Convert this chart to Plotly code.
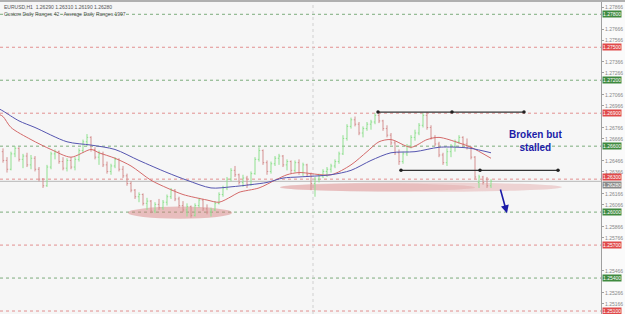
import plotly.graph_objects as go

# ---------------- data ----------------
bar_index = list(range(123))
opens = [1.2655,1.2647,1.2639,1.2653,1.2658,1.2648,1.2651,1.2643,1.2649,1.2639,
         1.2630,1.2624,1.2641,1.2653,1.2655,1.2646,1.2640,1.2647,1.2641,1.2648,
         1.2656,1.2664,1.2668,1.2657,1.2650,1.2653,1.2643,1.2637,1.2642,1.2648,
         1.2639,1.2633,1.2626,1.2620,1.2614,1.2616,1.2608,1.2610,1.2601,1.2607,
         1.2604,1.2609,1.2614,1.2620,1.2612,1.2606,1.2602,1.2605,1.2597,1.2606,
         1.2611,1.2603,1.2600,1.2602,1.2608,1.2616,1.2622,1.2630,1.2638,1.2634,
         1.2627,1.2631,1.2625,1.2635,1.2648,1.2656,1.2645,1.2637,1.2644,1.2649,
         1.2651,1.2643,1.2646,1.2638,1.2645,1.2636,1.2643,1.2634,1.2626,1.2630,
         1.2633,1.2637,1.2639,1.2642,1.2646,1.2653,1.2667,1.2678,1.2684,1.2680,
         1.2672,1.2676,1.2680,1.2682,1.2688,1.2683,1.2676,1.2670,1.2663,1.2654,
         1.2646,1.2653,1.2660,1.2668,1.2672,1.2679,1.2688,1.2677,1.2668,1.2662,
         1.2652,1.2645,1.2655,1.2660,1.2664,1.2668,1.2662,1.2659,1.2650,1.2627,
         1.2632,1.2630,1.2624]
highs = [1.2658,1.2650,1.2655,1.2660,1.2659,1.2653,1.2654,1.2652,1.2651,1.2641,
         1.2631,1.2643,1.2655,1.2657,1.2656,1.2650,1.2649,1.2650,1.2650,1.2658,
         1.2666,1.2671,1.2669,1.2659,1.2656,1.2655,1.2646,1.2644,1.2650,1.2649,
         1.2642,1.2635,1.2628,1.2621,1.2618,1.2617,1.2613,1.2611,1.2609,1.2612,
         1.2611,1.2616,1.2622,1.2621,1.2614,1.2610,1.2608,1.2606,1.2608,1.2613,
         1.2612,1.2607,1.2604,1.2610,1.2618,1.2624,1.2632,1.2640,1.2642,1.2635,
         1.2634,1.2633,1.2637,1.2650,1.2659,1.2657,1.2647,1.2646,1.2651,1.2653,
         1.2652,1.2648,1.2647,1.2647,1.2648,1.2645,1.2644,1.2636,1.2632,1.2635,
         1.2639,1.2641,1.2644,1.2648,1.2655,1.2670,1.2680,1.2686,1.2687,1.2682,
         1.2678,1.2682,1.2684,1.2690,1.2691,1.2684,1.2679,1.2672,1.2665,1.2657,
         1.2655,1.2662,1.2670,1.2675,1.2681,1.2690,1.2691,1.2679,1.2670,1.2664,
         1.2654,1.2658,1.2662,1.2666,1.2670,1.2669,1.2667,1.2660,1.2651,1.2634,
         1.2633,1.2632,1.2630]
lows = [1.2645,1.2636,1.2638,1.2650,1.2646,1.2640,1.2641,1.2639,1.2637,1.2628,
        1.2622,1.2623,1.2639,1.2648,1.2644,1.2638,1.2637,1.2639,1.2638,1.2646,
        1.2654,1.2660,1.2655,1.2648,1.2643,1.2641,1.2635,1.2634,1.2640,1.2637,
        1.2631,1.2624,1.2618,1.2612,1.2609,1.2606,1.2602,1.2599,1.2599,1.2602,
        1.2602,1.2606,1.2612,1.2610,1.2604,1.2600,1.2596,1.2595,1.2596,1.2604,
        1.2601,1.2598,1.2596,1.2601,1.2607,1.2614,1.2620,1.2628,1.2632,1.2625,
        1.2623,1.2622,1.2624,1.2634,1.2646,1.2643,1.2634,1.2635,1.2642,1.2643,
        1.2641,1.2638,1.2635,1.2636,1.2634,1.2633,1.2632,1.2620,1.2614,1.2627,
        1.2631,1.2632,1.2636,1.2640,1.2644,1.2652,1.2665,1.2676,1.2678,1.2670,
        1.2668,1.2674,1.2675,1.2680,1.2681,1.2674,1.2668,1.2661,1.2652,1.2643,
        1.2644,1.2651,1.2658,1.2665,1.2670,1.2677,1.2675,1.2666,1.2660,1.2650,
        1.2643,1.2642,1.2650,1.2655,1.2662,1.2660,1.2657,1.2648,1.2630,1.2622,
        1.2625,1.2622,1.2622]
closes = [1.2647,1.2639,1.2653,1.2658,1.2648,1.2651,1.2643,1.2649,1.2639,1.2630,
          1.2624,1.2641,1.2653,1.2655,1.2646,1.2640,1.2647,1.2641,1.2648,1.2656,
          1.2664,1.2668,1.2657,1.2650,1.2653,1.2643,1.2637,1.2642,1.2648,1.2639,
          1.2633,1.2626,1.2620,1.2614,1.2616,1.2608,1.2610,1.2601,1.2607,1.2604,
          1.2609,1.2614,1.2620,1.2612,1.2606,1.2602,1.2605,1.2597,1.2606,1.2611,
          1.2603,1.2600,1.2602,1.2608,1.2616,1.2622,1.2630,1.2638,1.2634,1.2627,
          1.2631,1.2625,1.2635,1.2648,1.2656,1.2645,1.2637,1.2644,1.2649,1.2651,
          1.2643,1.2646,1.2638,1.2645,1.2636,1.2643,1.2634,1.2626,1.2630,1.2633,
          1.2637,1.2639,1.2642,1.2646,1.2653,1.2667,1.2678,1.2684,1.2680,1.2672,
          1.2676,1.2680,1.2682,1.2688,1.2683,1.2676,1.2670,1.2663,1.2654,1.2646,
          1.2653,1.2660,1.2668,1.2672,1.2679,1.2688,1.2677,1.2668,1.2662,1.2652,
          1.2645,1.2655,1.2660,1.2664,1.2668,1.2662,1.2659,1.2650,1.2632,1.2632,
          1.2627,1.2624,1.2628]

ma_fast_x = [-1,0,2,7,12,17,22,24,28,32,37,41,45,51,54,57,59,64,68,71,74,82,87,91,94,97,102,106,109,114,117,122]
ma_fast = [1.2689,1.2687,1.2677,1.2666,1.2657,1.2650,1.2657,1.2654,1.2649,1.2642,
           1.2629,1.2622,1.2616,1.2611,1.2609,1.2614,1.2618,1.2622,1.2629,1.2634,
           1.2636,1.2634,1.2643,1.2655,1.2664,1.2666,1.2659,1.2666,1.2668,1.2663,
           1.2659,1.2649]
ma_slow_x = [-1,0,4,8,16,22,28,34,41,46,52,57,62,66,70,74,82,87,92,97,103,109,114,117,122]
ma_slow = [1.2694,1.2692,1.2683,1.2677,1.2664,1.2661,1.2657,1.2647,1.2636,1.2629,
           1.2622,1.2623,1.2625,1.2627,1.2631,1.2632,1.2634,1.2638,1.2647,1.2654,
           1.2655,1.2659,1.2659,1.2658,1.2654]

green_levels = [1.2780, 1.2720, 1.2660, 1.2600, 1.2540]
red_levels = [1.2750, 1.2690, 1.2630, 1.2570, 1.2510]
current_price = 1.2628
axis_ticks = [1.25166, 1.25266, 1.25466, 1.25766, 1.25866, 1.26066, 1.26166,
              1.26366, 1.26466, 1.26666, 1.26766, 1.26966, 1.27066, 1.27266,
              1.27366, 1.27566, 1.27666, 1.27866]

top_line = dict(price=1.2691, start=93.75, mid=112.25, end=130.25)
low_line = dict(price=1.2638, start=99.5, mid=119.25, end=138.75)

title_lines = ["EURUSD,H1  1.26290 1.26310 1.26190 1.26280",
               "Custom Daily Ranges 42 · Average Daily Ranges 1997"]
note_lines = ["Broken but", "stalled"]

# ---------------- figure ----------------
fig = go.Figure()

fig.add_trace(go.Ohlc(
    x=bar_index, open=opens, high=highs, low=lows, close=closes,
    increasing=dict(line=dict(color="#8fe08f", width=1)),
    decreasing=dict(line=dict(color="#d49090", width=1)),
    tickwidth=0.3, showlegend=False, hoverinfo="skip"))

fig.add_trace(go.Scatter(x=ma_fast_x, y=ma_fast, mode="lines",
                         line=dict(color="#d46a6a", width=1, shape="spline", smoothing=0.8),
                         showlegend=False, hoverinfo="skip"))
fig.add_trace(go.Scatter(x=ma_slow_x, y=ma_slow, mode="lines",
                         line=dict(color="#5555b0", width=1, shape="spline", smoothing=0.8),
                         showlegend=False, hoverinfo="skip"))

for ln in (top_line, low_line):
    fig.add_trace(go.Scatter(x=[ln["start"], ln["end"]], y=[ln["price"], ln["price"]],
                             mode="lines", line=dict(color="#333333", width=1.2),
                             showlegend=False, hoverinfo="skip"))
    fig.add_trace(go.Scatter(x=[ln["start"], ln["mid"], ln["end"]], y=[ln["price"]] * 3,
                             mode="markers", marker=dict(color="#222222", size=3.5),
                             showlegend=False, hoverinfo="skip"))

shapes = []
for lv in green_levels:
    shapes.append(dict(type="line", xref="paper", x0=0, x1=1, yref="y", y0=lv, y1=lv,
                       line=dict(color="#7cac7c", width=1, dash="dot"), layer="below"))
for lv in red_levels:
    shapes.append(dict(type="line", xref="paper", x0=0, x1=1, yref="y", y0=lv, y1=lv,
                       line=dict(color="#e29090", width=1, dash="dot"), layer="below"))
shapes.append(dict(type="line", xref="paper", x0=0, x1=1, yref="y", y0=current_price, y1=current_price,
                   line=dict(color="#b8b8b8", width=1), layer="below"))
shapes.append(dict(type="line", xref="x", x0=77.5, x1=77.5, yref="paper", y0=0, y1=1,
                   line=dict(color="#d0d0d0", width=1, dash="dot"), layer="below"))
# support zones
shapes.append(dict(type="circle", xref="x", yref="y", x0=31.25, x1=57.25, y0=1.2594, y1=1.2605,
                   fillcolor="rgba(214,120,120,0.45)", line=dict(width=0), layer="below"))
shapes.append(dict(type="circle", xref="x", yref="y", x0=69.25, x1=139.75, y0=1.26185, y1=1.2627,
                   fillcolor="rgba(214,120,120,0.28)", line=dict(width=0), layer="below"))
shapes.append(dict(type="circle", xref="x", yref="y", x0=69.25, x1=118, y0=1.2619, y1=1.2626,
                   fillcolor="rgba(214,120,120,0.22)", line=dict(width=0), layer="below"))
# top border
shapes.append(dict(type="line", xref="paper", x0=0, x1=1.05, yref="paper", y0=0.997, y1=0.997,
                   line=dict(color="#b0b0b0", width=2)))

annotations = []
annotations.append(dict(x=0.004, y=0.995, xref="paper", yref="paper", xanchor="left", yanchor="top",
                        text="<br>".join(title_lines), showarrow=False, align="left",
                        font=dict(family="Arial", size=5, color="#555555")))
annotations.append(dict(x=133, y=1.2665, xref="x", yref="y",
                        text="<br>".join(f"<b>{t}</b>" for t in note_lines), showarrow=False,
                        font=dict(family="Arial", size=10, color="#1c1ca8"), align="center"))
annotations.append(dict(x=126, y=1.2599, ax=124.25, ay=1.2622, xref="x", yref="y", axref="x", ayref="y",
                        showarrow=True, arrowhead=2, arrowsize=1, arrowwidth=1.6, arrowcolor="#1c1ca8", text=""))
for lv in green_levels:
    annotations.append(dict(x=1, y=lv, xref="paper", yref="y", xanchor="left", xshift=1,
                            text=f"{lv:.5f}", showarrow=False, bgcolor="#3f8a3f", borderpad=0,
                            font=dict(family="Arial", size=5, color="white")))
for lv in red_levels:
    annotations.append(dict(x=1, y=lv, xref="paper", yref="y", xanchor="left", xshift=1,
                            yshift=2 if lv == 1.2630 else 0,
                            text=f"{lv:.5f}", showarrow=False, bgcolor="#e04a4a", borderpad=0,
                            font=dict(family="Arial", size=5, color="white")))
annotations.append(dict(x=1, y=current_price, xref="paper", yref="y", xanchor="left", xshift=1, yshift=-4,
                        text=f"{current_price:.5f}", showarrow=False, bgcolor="#8a8a8a", borderpad=0,
                        font=dict(family="Arial", size=5, color="white")))

fig.update_layout(
    width=625, height=314,
    margin=dict(l=0, r=24, t=0, b=0),
    paper_bgcolor="#fafafa", plot_bgcolor="#f6f6f6",
    shapes=shapes, annotations=annotations,
    xaxis=dict(range=[-0.75, 149.5], visible=False, rangeslider=dict(visible=False), showgrid=False),
    yaxis=dict(range=[1.25073, 1.2793], side="right", showgrid=False, zeroline=False,
               showline=True, linecolor="#a0a0a0", linewidth=1,
               tickvals=axis_ticks, ticktext=[f"{t:.5f}" for t in axis_ticks],
               ticks="outside", ticklen=2, tickcolor="#a0a0a0",
               tickfont=dict(family="Arial", size=5, color="#888888")),
)

fig.write_html("out.html")
